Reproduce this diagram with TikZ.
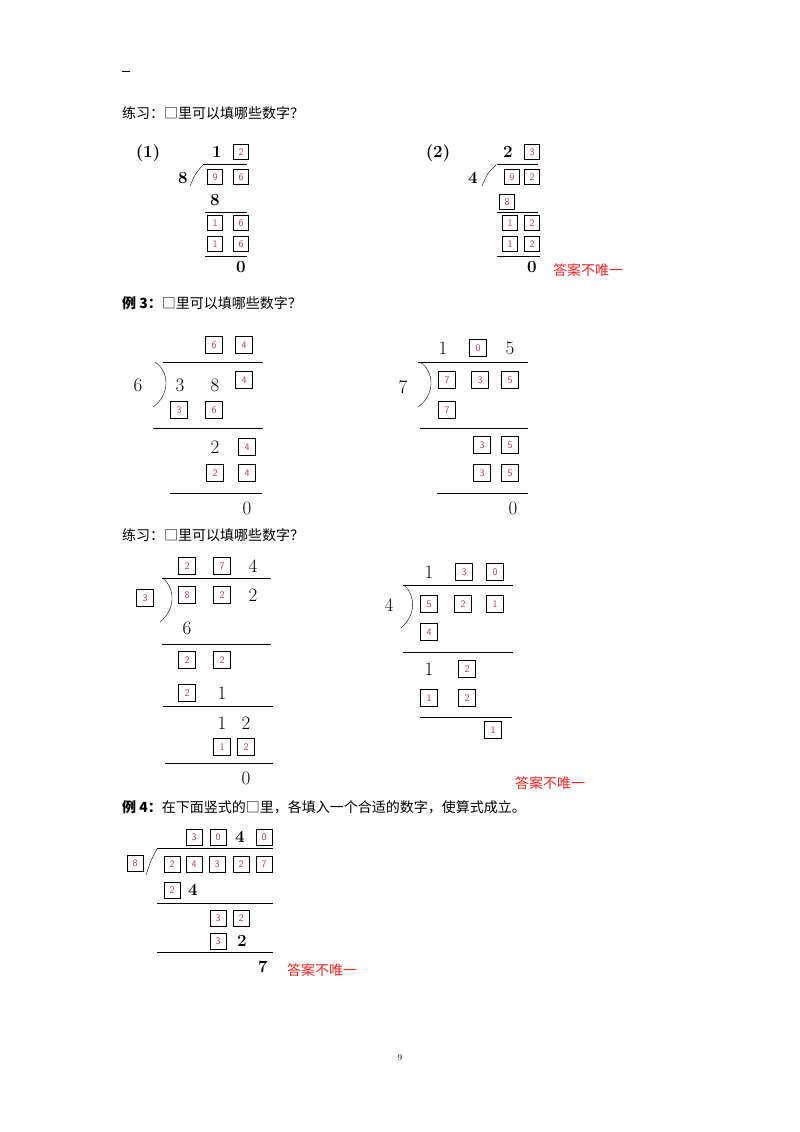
\documentclass[tikz,border=0pt]{standalone}
\usepackage{fontspec}
\newfontfamily\cjk{Noto Sans CJK SC}
\definecolor{dig}{HTML}{B83A5A}
\definecolor{ans}{HTML}{FF2020}
\newcounter{bxc}
\newcommand\bx[4][15]{\stepcounter{bxc}\node[bxs,minimum width=#1pt,minimum height=#1pt] (bx\thebxc) at (#2,#3) {#4};}
\newcommand\dg[3]{\stepcounter{bxc}\node[dgs] (dg\thebxc) at (#1,#2) {#3};}
\newcommand\bd[3]{\stepcounter{bxc}\node[bds] (bd\thebxc) at (#1,#2) {#3};}
\begin{document}
\begin{tikzpicture}[x=1pt,y=-1pt,
  bxs/.style={draw,line width=0.9pt,inner sep=0pt,text=dig,font=\sffamily\fontsize{10}{10}\selectfont},
  dgs/.style={inner sep=0pt,font=\fontsize{19}{19}\selectfont},
  bds/.style={inner sep=0pt,font=\bfseries\fontsize{17}{17}\selectfont},
  txt/.style={inner sep=0pt,anchor=west,font=\cjk\fontsize{14}{14}\selectfont},
  red/.style={inner sep=0pt,anchor=west,text=ans,font=\cjk\fontsize{14}{14}\selectfont},
  rl/.style={line width=0.8pt}]
\useasboundingbox (0,0) rectangle (800,1132);
\fill[white] (0,0) rectangle (800,1132);
\draw[line width=1pt] (122,72) -- (130,72);
\node[txt] (t1) at (122,113) {练习：□里可以填哪些数字？};
% (1)
\bd{148}{153}{(1)}
\bd{217}{152}{1}\bx{241}{152}{2}
\draw[rl] (203,164) -- (247,164);
\bd{183}{178}{8}
\draw (190,186) .. controls (195,174) .. (203,165);
\bx{215}{177}{9}\bx{241}{177}{6}
\bd{215}{200}{8}
\draw[rl] (205,212) -- (247,212);
\bx{215}{223}{1}\bx{241}{223}{6}
\bx{215}{244}{1}\bx{241}{244}{6}
\draw[rl] (205,256) -- (247,256);
\bd{241}{267}{0}
% (2)
\bd{438}{153}{(2)}
\bd{508}{152}{2}\bx{532}{152}{3}
\draw[rl] (497,164) -- (538,164);
\bd{473}{178}{4}
\draw (482,186) .. controls (487,174) .. (496,165);
\bx{512}{177}{9}\bx{532}{177}{2}
\bx{507}{202}{8}
\draw[rl] (497,212) -- (538,212);
\bx{510}{223}{1}\bx{532}{223}{2}
\bx{510}{244}{1}\bx{532}{244}{2}
\draw[rl] (497,256) -- (540,256);
\bd{532}{267}{0}
\node[red] (a1) at (553,270) {答案不唯一};
\node[txt] (t2) at (122,303) {{\bfseries 例 3：}□里可以填哪些数字？};
% ex3 left
\bx[17]{214}{345}{6}\bx[17]{244}{345}{4}
\draw[rl] (163,362) -- (263,362);
\dg{138}{385}{6}
\draw (155,362) .. controls (170,372) and (170,395) .. (153,407);
\dg{180}{385}{3}\dg{215}{385}{8}\bx[17]{244}{380}{4}
\bx[17]{179}{410}{3}\bx[17]{214}{410}{6}
\draw[rl] (153,428) -- (263,428);
\dg{215}{447}{2}\bx[17]{247}{447}{4}
\bx[17]{215}{473}{2}\bx[17]{247}{473}{4}
\draw[rl] (170,493) -- (262,493);
\dg{247}{508}{0}
% ex3 right
\dg{443}{348}{1}\bx[17]{478}{348}{0}\dg{510}{348}{5}
\draw[rl] (418,362) -- (528,362);
\dg{403}{387}{7}
\draw (420,362) .. controls (435,372) and (435,395) .. (418,407);
\bx[17]{447}{380}{7}\bx[17]{480}{380}{3}\bx[17]{510}{380}{5}
\bx[17]{447}{410}{7}
\draw[rl] (420,428) -- (528,428);
\bx[17]{482}{445}{3}\bx[17]{510}{445}{5}
\bx[17]{482}{473}{3}\bx[17]{510}{473}{5}
\draw[rl] (437,493) -- (528,493);
\dg{513}{508}{0}
\node[txt] (t3) at (122,535) {练习：□里可以填哪些数字？};
% practice left
\bx[17]{187}{566}{2}\bx[17]{222}{566}{7}\dg{253}{566}{4}
\draw[rl] (162,578) -- (271,578);
\bx[17]{145}{598}{3}
\draw (163,578) .. controls (176,590) and (175,610) .. (160,622);
\bx[17]{187}{595}{8}\bx[17]{222}{595}{2}\dg{253}{595}{2}
\dg{187}{628}{6}
\draw[rl] (162,644) -- (271,644);
\bx[17]{187}{660}{2}\bx[17]{222}{660}{2}
\bx[17]{187}{693}{2}\dg{222}{693}{1}
\draw[rl] (163,706) -- (273,706);
\dg{222}{723}{1}\dg{246}{723}{2}
\bx[17]{222}{747}{1}\bx[17]{246}{747}{2}
\draw[rl] (165,763) -- (273,763);
\dg{246}{778}{0}
% practice right
\dg{429}{572}{1}\bx[17]{464}{572}{3}\bx[17]{495}{572}{0}
\draw[rl] (403,585) -- (513,585);
\dg{389}{605}{4}
\draw (404,585) .. controls (416,596) and (416,615) .. (401,628);
\bx[17]{429}{604}{5}\bx[17]{463}{604}{2}\bx[17]{495}{604}{1}
\bx[17]{429}{632}{4}
\draw[rl] (403,652) -- (513,652);
\dg{429}{669}{1}\bx[17]{467}{669}{2}
\bx[17]{429}{698}{1}\bx[17]{467}{698}{2}
\draw[rl] (420,717) -- (512,717);
\bx[17]{493}{730}{1}
\node[red] (a2) at (515,783) {答案不唯一};
\node[txt] (t4) at (122,807) {{\bfseries 例 4：}在下面竖式的□里，各填入一个合适的数字，使算式成立。};
% ex4
\bx[16]{194}{837}{3}\bx[16]{218}{837}{0}\bd{240}{837}{4}\bx[16]{264}{837}{0}
\draw[rl] (157,848) -- (273,848);
\bx[16]{135}{863}{8}
\draw (146,875) .. controls (151,860) .. (157,849);
\bx[16]{172}{864}{2}\bx[16]{194}{864}{4}\bx[16]{217}{864}{3}\bx[16]{241}{864}{2}\bx[16]{264}{864}{7}
\bx[16]{172}{890}{2}\bd{193}{890}{4}
\draw[rl] (157,903) -- (273,903);
\bx[16]{218}{918}{3}\bx[16]{241}{918}{2}
\bx[16]{218}{941}{3}\bd{242}{941}{2}
\draw[rl] (157,952) -- (273,952);
\bd{263}{967}{7}
\node[red] (a3) at (287,970) {答案不唯一};
\node[inner sep=0pt,font=\fontsize{9}{9}\selectfont] (pg) at (400,1058) {9};
\end{tikzpicture}
\end{document}
